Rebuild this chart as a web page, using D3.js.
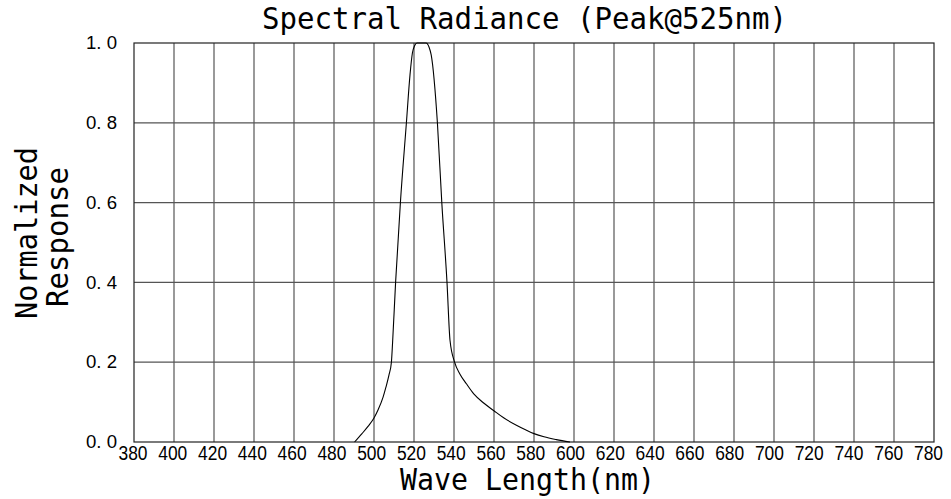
<!DOCTYPE html>
<html>
<head>
<meta charset="utf-8">
<script src="https://cdn.jsdelivr.net/npm/d3@7"></script>
<style>
  body { margin: 0; background: #fff; }
  svg { display: block; }
</style>
</head>
<body>
<div id="chart"></div>
<script>
// wavelength (nm) and normalized response
const waveLength = [490.3, 494, 497, 500, 502, 504.5, 506, 507.5, 508.7, 509.3,
  510.8, 513.2, 516.2, 518, 519.2, 520.3, 521.5, 523.7, 526, 527.5, 528.6,
  531.7, 533.9, 536.5, 538, 540.3, 543, 546.2, 550, 555, 559.8, 565, 571.2,
  576, 580, 585, 591.2, 598];
const response = [0, 0.021, 0.039, 0.06, 0.08, 0.112, 0.138, 0.168, 0.2, 0.25,
  0.4, 0.6, 0.8, 0.92, 0.975, 0.993, 1.0, 1.0, 1.0, 0.99, 0.97,
  0.8, 0.6, 0.4, 0.255, 0.2, 0.17, 0.146, 0.12, 0.097, 0.079, 0.06, 0.042,
  0.03, 0.021, 0.013, 0.006, 0];

const xTicks = d3.range(380, 781, 20);
const yTicks = [0, 0.2, 0.4, 0.6, 0.8, 1.0];

const width = 951, height = 499;
const plotLeft = 134, plotRight = 934, plotTop = 43, plotBottom = 442;

const svg = d3.select("#chart").append("svg")
  .attr("width", width)
  .attr("height", height);

const x = d3.scaleLinear().domain([380, 780]).range([plotLeft, plotRight]);
const y = d3.scaleLinear().domain([0, 1]).range([plotBottom, plotTop]);

// grille
svg.append("g")
  .selectAll("line")
  .data(xTicks.slice(1, -1))
  .enter()
  .append("line")
  .attr("x1", d => x(d)).attr("x2", d => x(d))
  .attr("y1", plotTop).attr("y2", plotBottom)
  .attr("stroke", "#555").attr("stroke-width", 1.2);

svg.append("g")
  .selectAll("line")
  .data(yTicks.slice(1, -1))
  .enter()
  .append("line")
  .attr("x1", plotLeft).attr("x2", plotRight)
  .attr("y1", d => y(d)).attr("y2", d => y(d))
  .attr("stroke", "#555").attr("stroke-width", 1.2);

svg.append("rect")
  .attr("x", plotLeft).attr("y", plotTop)
  .attr("width", plotRight - plotLeft).attr("height", plotBottom - plotTop)
  .attr("fill", "none").attr("stroke", "#222").attr("stroke-width", 1.2);

// axes
const xAxis = svg.append("g")
  .attr("transform", `translate(0,${plotBottom})`)
  .call(d3.axisBottom(x).tickValues(xTicks).tickSize(0).tickPadding(4));
xAxis.select(".domain").remove();
// les libellés glissent un peu vers la gauche en allant vers la droite
xAxis.selectAll("text")
  .attr("dx", d => -1.5 - (d - 380) / 400 * 4.5)
  .attr("font-family", "Liberation Sans, Arial, sans-serif")
  .attr("font-size", 20)
  .attr("textLength", 29)
  .attr("lengthAdjust", "spacingAndGlyphs")
  .attr("fill", "#000");

const yAxis = svg.append("g")
  .attr("transform", `translate(${plotLeft},0)`)
  .call(d3.axisLeft(y).tickValues(yTicks).tickSize(0).tickPadding(17)
    .tickFormat(d => d.toFixed(1).replace(".", ". ")));
yAxis.select(".domain").remove();
yAxis.selectAll("text")
  .attr("font-family", "Liberation Sans, Arial, sans-serif")
  .attr("font-size", 18)
  .attr("textLength", 31)
  .attr("lengthAdjust", "spacingAndGlyphs")
  .attr("fill", "#000");

// courbe
const pts = waveLength.map((w, i) => [w, response[i]]);
const line = d3.line()
  .x(d => x(d[0]))
  .y(d => y(d[1]))
  .curve(d3.curveMonotoneX);

svg.append("path")
  .datum(pts)
  .attr("d", line)
  .attr("fill", "none")
  .attr("stroke", "#000")
  .attr("stroke-width", 1.1);

// titres
const mono = "DejaVu Sans Mono, monospace";
svg.append("text")
  .attr("x", 262).attr("y", 29)
  .attr("font-family", mono).attr("font-size", 30)
  .attr("textLength", 525).attr("lengthAdjust", "spacingAndGlyphs")
  .text("Spectral Radiance  (Peak@525nm)");

svg.append("text")
  .attr("x", 400).attr("y", 490)
  .attr("font-family", mono).attr("font-size", 30)
  .attr("textLength", 255).attr("lengthAdjust", "spacingAndGlyphs")
  .text("Wave Length(nm)");

svg.append("text")
  .attr("transform", "translate(37,233) rotate(-90)")
  .attr("text-anchor", "middle")
  .attr("font-family", mono).attr("font-size", 30)
  .attr("textLength", 172).attr("lengthAdjust", "spacingAndGlyphs")
  .text("Normalized");

svg.append("text")
  .attr("transform", "translate(68,237) rotate(-90)")
  .attr("text-anchor", "middle")
  .attr("font-family", mono).attr("font-size", 30)
  .attr("textLength", 140).attr("lengthAdjust", "spacingAndGlyphs")
  .text("Response");
</script>
</body>
</html>
